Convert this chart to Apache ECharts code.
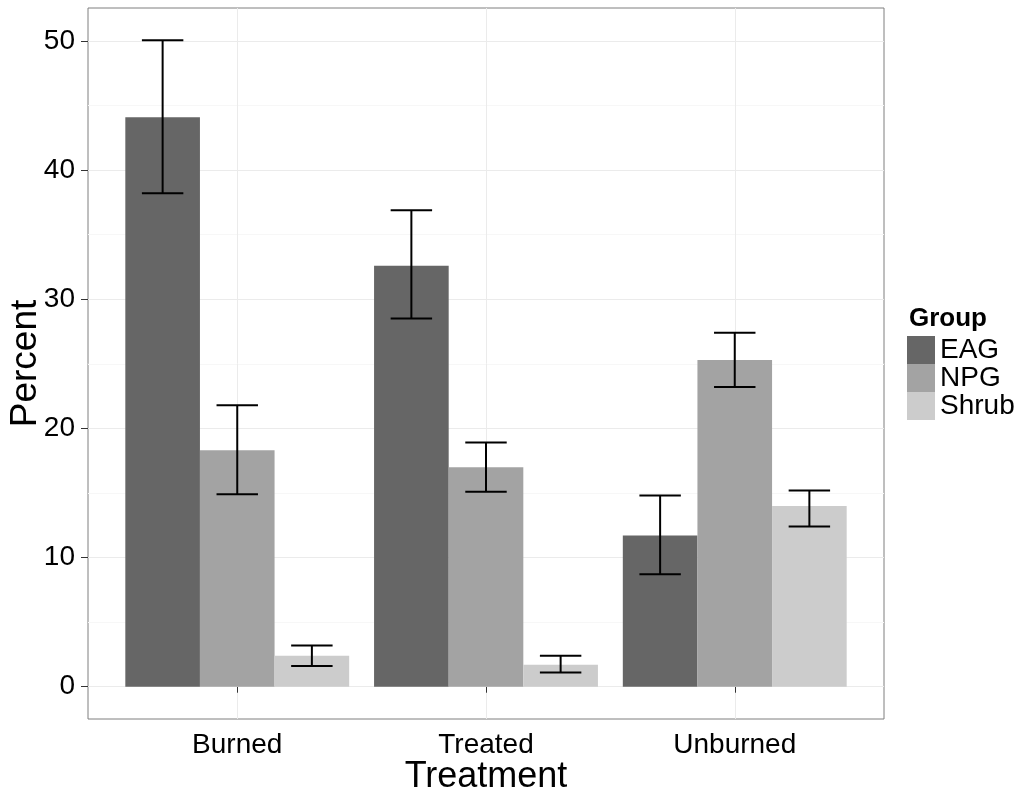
<!DOCTYPE html>
<html>
<head>
<meta charset="utf-8">
<script src="https://cdn.jsdelivr.net/npm/echarts@6/dist/echarts.min.js"></script>
<style>
html,body{margin:0;padding:0;background:#fff;}
#chart{width:1024px;height:796px;}
</style>
</head>
<body>
<div id="chart"></div>
<script>
// ---- data ----
const categories = ['Burned', 'Treated', 'Unburned'];
const groups = ['EAG', 'NPG', 'Shrub'];
const eagMean = [44.1, 32.6, 11.7];
const eagLow  = [38.2, 28.5, 8.7];
const eagHigh = [50.05, 36.9, 14.8];
const npgMean = [18.3, 17.0, 25.3];
const npgLow  = [14.9, 15.1, 23.2];
const npgHigh = [21.8, 18.9, 27.4];
const shrubMean = [2.4, 1.7, 14.0];
const shrubLow  = [1.6, 1.1, 12.4];
const shrubHigh = [3.2, 2.4, 15.2];
const yTicks = [0, 10, 20, 30, 40, 50];
const yMinorTicks = [5, 15, 25, 35, 45];

// ---- layout ----
const FONT = "'Liberation Sans', Arial, sans-serif";
const gridLeft = 88, gridTop = 8, gridW = 796, gridH = 711;
const xMin = 0.4, xMax = 3.6;
const pxPerUnit = gridW / (xMax - xMin);
const barW = 0.3 * pxPerUnit;
const dodge = [-0.3, 0, 0.3];
const capHalf = 0.0833;
const colors = ['#666666', '#a3a3a3', '#cccccc'];

const means = [eagMean, npgMean, shrubMean];
const lows = [eagLow, npgLow, shrubLow];
const highs = [eagHigh, npgHigh, shrubHigh];

const chart = echarts.init(document.getElementById('chart'));

const series = [];
groups.forEach((g, gi) => {
  series.push({
    name: g,
    type: 'bar',
    xAxisIndex: 0,
    yAxisIndex: 0,
    barWidth: barW,
    barGap: '0%',
    itemStyle: { color: colors[gi] },
    emphasis: { disabled: true },
    z: 2,
    data: categories.map((c, ci) => [ci + 1, means[gi][ci]])
  });
});
groups.forEach((g, gi) => {
  series.push({
    name: g + '_err',
    type: 'custom',
    xAxisIndex: 0,
    yAxisIndex: 0,
    z: 5,
    silent: true,
    data: categories.map((c, ci) => [ci + 1 + dodge[gi], lows[gi][ci], highs[gi][ci]]),
    renderItem: function (params, api) {
      const x = api.value(0), lo = api.value(1), hi = api.value(2);
      const pLo = api.coord([x, lo]);
      const pHi = api.coord([x, hi]);
      const l = api.coord([x - capHalf, lo])[0];
      const r = api.coord([x + capHalf, lo])[0];
      const st = { stroke: '#000', lineWidth: 2 };
      return {
        type: 'group',
        children: [
          { type: 'line', shape: { x1: pLo[0], y1: pLo[1], x2: pHi[0], y2: pHi[1] }, style: st },
          { type: 'line', shape: { x1: l, y1: pHi[1], x2: r, y2: pHi[1] }, style: st },
          { type: 'line', shape: { x1: l, y1: pLo[1], x2: r, y2: pLo[1] }, style: st }
        ]
      };
    }
  });
});

const option = {
  animation: false,
  backgroundColor: '#fff',
  textStyle: { fontFamily: FONT },
  title: {
    text: 'Group',
    left: 909,
    top: 306,
    textStyle: { fontFamily: FONT, fontSize: 26, fontWeight: 'bold', color: '#000' },
    padding: 0
  },
  legend: {
    data: groups,
    orient: 'vertical',
    left: 907,
    top: 336,
    itemWidth: 28,
    itemHeight: 28,
    itemGap: 0,
    padding: 0,
    icon: 'rect',
    selectedMode: false,
    textStyle: { fontFamily: FONT, fontSize: 28, color: '#000', padding: [0, 0, 0, 0] }
  },
  grid: {
    left: gridLeft, top: gridTop, width: gridW, height: gridH,
    show: true, borderColor: '#7f7f7f', borderWidth: 1, backgroundColor: 'transparent',
    containLabel: false,
    outerBoundsMode: 'none'
  },
  xAxis: {
    type: 'value',
    min: xMin, max: xMax,
    name: 'Treatment',
    nameLocation: 'middle',
    nameGap: 40,
    nameMoveOverlap: false,
    nameTextStyle: { fontFamily: FONT, fontSize: 36, color: '#000' },
    axisLine: { show: false },
    axisTick: { show: true, length: 6, lineStyle: { color: '#333' }, customValues: [1, 2, 3] },
    axisLabel: {
      customValues: [1, 2, 3],
      margin: 12,
      fontSize: 28, color: '#000', fontFamily: FONT,
      formatter: v => categories[Math.round(v) - 1] || ''
    },
    splitLine: { show: true, lineStyle: { color: '#ebebeb', width: 1 } }
  },
  yAxis: [{
    type: 'value',
    min: -2.5, max: 52.55,
    name: 'Percent',
    nameLocation: 'middle',
    nameGap: 44,
    nameMoveOverlap: false,
    nameRotate: 90,
    nameTextStyle: { fontFamily: FONT, fontSize: 37, color: '#000' },
    axisLine: { show: false },
    axisTick: { show: true, length: 7, lineStyle: { color: '#333' }, customValues: yTicks },
    axisLabel: { customValues: yTicks, margin: 13, fontSize: 28, color: '#000', fontFamily: FONT },
    splitLine: { show: true, lineStyle: { color: '#ebebeb', width: 1 } },
    z: 1
  }, {
    type: 'value',
    min: -2.5, max: 52.55,
    position: 'left',
    axisLine: { show: false },
    axisTick: { show: false, customValues: yMinorTicks },
    axisLabel: { show: false, customValues: yMinorTicks },
    splitLine: { show: true, lineStyle: { color: '#f7f7f7', width: 1 } },
    z: 0
  }],
  series: series
};
chart.setOption(option);
</script>
</body>
</html>
